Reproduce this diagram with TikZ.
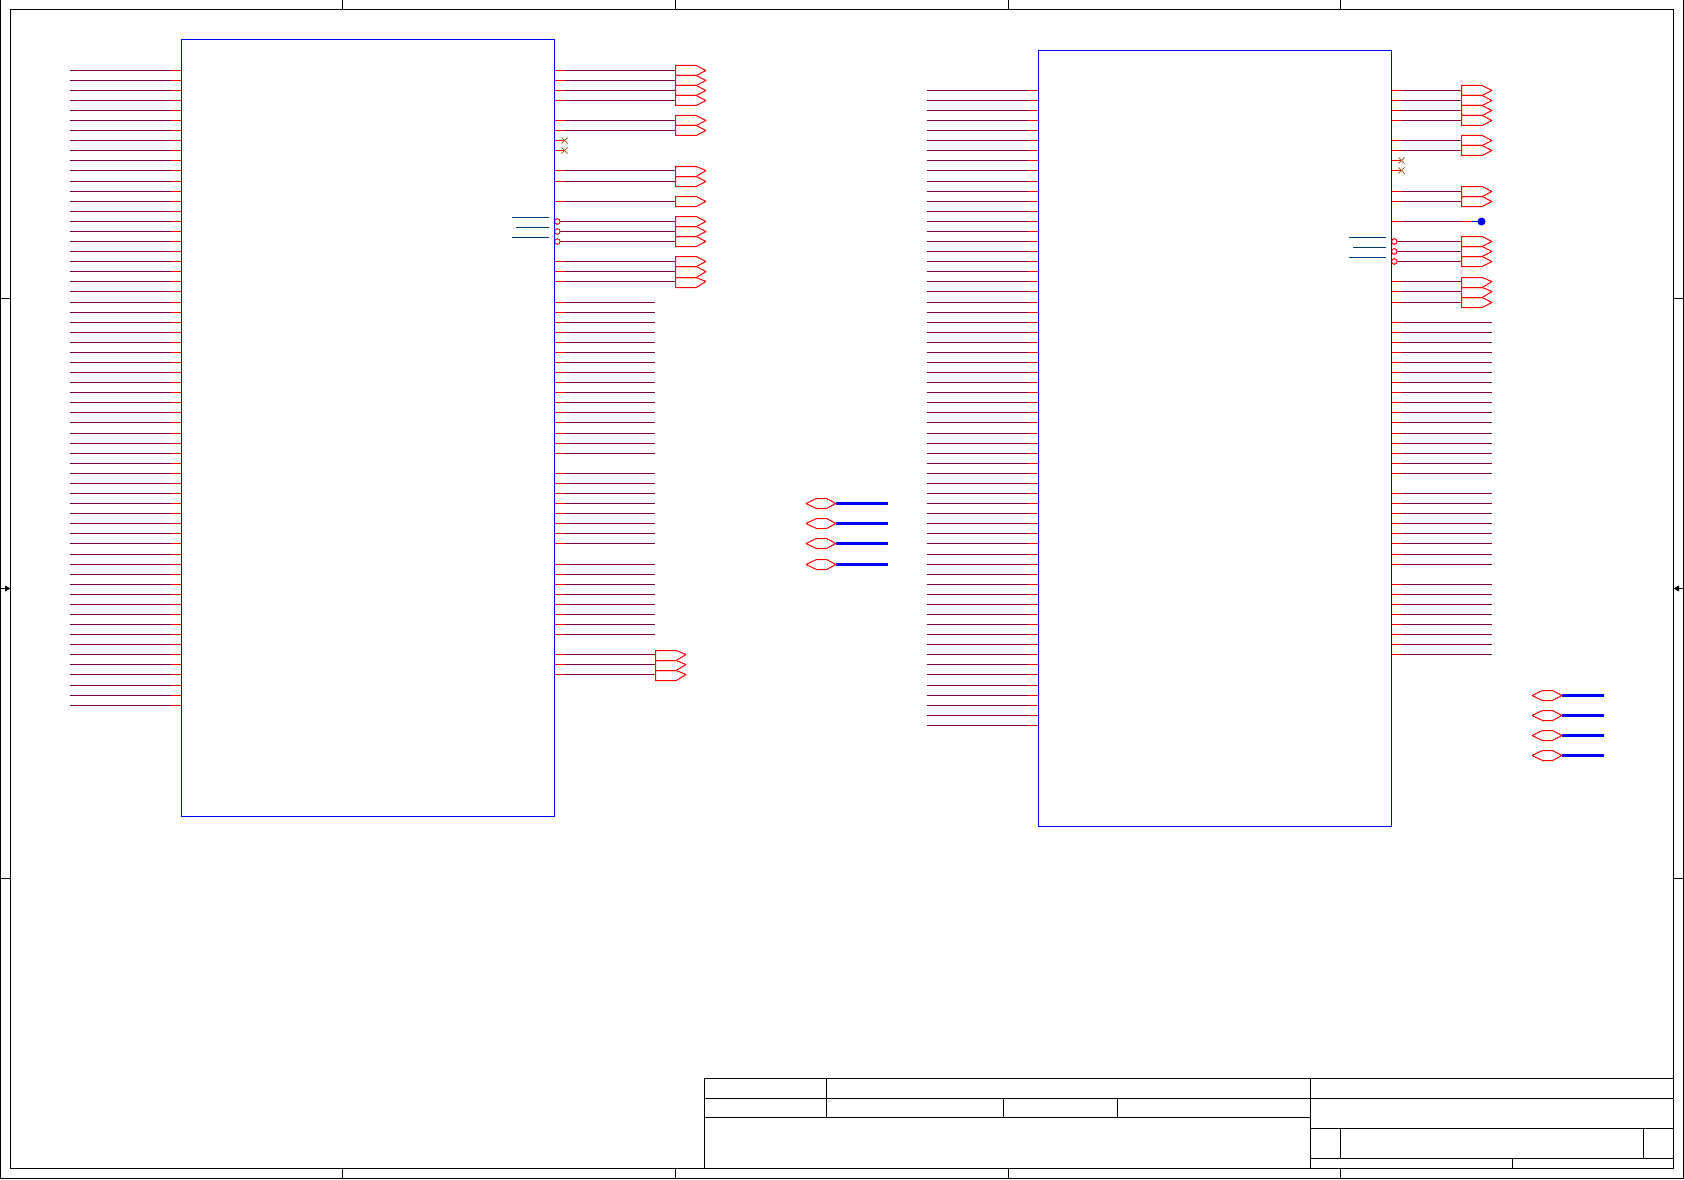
\documentclass[tikz,border=0pt]{standalone}
\usetikzlibrary{calc}
\definecolor{pinred}{HTML}{FF0000}
\definecolor{wirepurple}{HTML}{800040}
\definecolor{chipblue}{HTML}{0000FF}
\definecolor{barblue}{HTML}{003C74}
\definecolor{nocbrown}{HTML}{A0682E}
\tikzset{
  framing/.style={draw=black,line width=1pt},
  chipbox/.style={draw=chipblue,line width=1pt,rectangle,inner sep=0pt,outer sep=0pt},
  pinline/.style={draw=pinred,line width=1pt},
  wireline/.style={draw=wirepurple,line width=1pt},
  portshape/.style={draw=pinred,line width=1pt,line join=miter,miter limit=2},
  busline/.style={draw=chipblue,line width=2.7pt},
  barline/.style={draw=barblue,line width=1pt},
  noconn/.style={draw=nocbrown,line width=0.9pt},
  bubble/.style={draw=pinred,line width=1pt,fill=white}
}
% row position: base + 10 n + drift
\newcommand{\rowpos}[3]{\pgfmathsetmacro{\ypos}{#1+10*#3+floor((#3+#2)/12.5)+0.5}}
% left side pin
\newcommand{\leftpin}[7]{% prefix, n, xstart, xred, xbox, base, a
  \rowpos{#6}{#7}{#2}
  \coordinate (#1-a#2) at (#3,\ypos);
  \coordinate (#1-b#2) at (#4,\ypos);
  \coordinate (#1-c#2) at (#5,\ypos);
  \draw[wireline] (#1-a#2) -- (#1-b#2);
  \draw[pinline] (#1-b#2) -- (#1-c#2);
}
% right side pin
\newcommand{\rightpin}[6]{% prefix, n, xbox, xend, base, a
  \rowpos{#5}{#6}{#2}
  \coordinate (#1-r#2) at (#3,\ypos);
  \coordinate (#1-s#2) at (#3+10,\ypos);
  \coordinate (#1-t#2) at (#4,\ypos);
  \draw[wireline] (#1-s#2) -- (#1-t#2);
  \draw[pinline] (#1-r#2) -- (#1-s#2);
}
% inverted pin
\newcommand{\invpin}[6]{%
  \rowpos{#5}{#6}{#2}
  \coordinate (#1-r#2) at (#3+5.4,\ypos);
  \coordinate (#1-t#2) at (#4,\ypos);
  \draw[wireline] (#1-r#2) -- (#1-t#2);
  \draw[bubble] (#3+2.8,\ypos) circle (2.8);
}
% no-connect pin
\newcommand{\ncpin}[5]{%
  \rowpos{#4}{#5}{#2}
  \coordinate (#1-r#2) at (#3,\ypos);
  \coordinate (#1-s#2) at (#3+10,\ypos);
  \draw[pinline] (#1-r#2) -- (#1-s#2);
  \draw[noconn] ($(#1-s#2)+(-3,-3)$) -- ($(#1-s#2)+(3,3)$);
  \draw[noconn] ($(#1-s#2)+(-3,3)$) -- ($(#1-s#2)+(3,-3)$);
}
% off-page output port: coordinate, height above, height below
\newcommand{\outport}[3]{%
  \draw[portshape] ($(#1)+(0,-#2)$) -- ($(#1)+(20.7,-#2)$) -- ($(#1)+(30.5,0)$)
    -- ($(#1)+(20.7,#3)$) -- ($(#1)+(0,#3)$) -- cycle;
}
% bidirectional port with bus stub: name, x, y, x of stub end
\newcommand{\bidir}[4]{%
  \coordinate (#1-l) at (#2,#3);
  \coordinate (#1-m) at (#2+30,#3);
  \coordinate (#1-e) at (#4,#3);
  \draw[busline] (#1-m) -- (#1-e);
  \draw[portshape] (#1-l) -- ++(10.5,-5) -- ++(10,0) -- (#1-m) -- ++(-9.5,5) -- ++(-10,0) -- cycle;
}
\begin{document}
\begin{tikzpicture}[x=1pt,y=-1pt]
\useasboundingbox (0,0) rectangle (1684,1180);
\fill[white] (0,0) rectangle (1684,1180);

% sheet frame
\draw[framing] (0.5,-2) rectangle (1683.5,1178.5);
\draw[framing] (10.5,9.5) rectangle (1673.5,1168.5);
\foreach \tx in {342.5,675.5,1008.5,1340.5}{
  \draw[framing] (\tx,0) -- (\tx,9.5);
  \draw[framing] (\tx,1168.5) -- (\tx,1178.5);
}
\foreach \ty in {298.5,588.5,878.5}{
  \draw[framing] (0.5,\ty) -- (10.5,\ty);
  \draw[framing] (1673.5,\ty) -- (1683.5,\ty);
}
\fill[black] (5,585.5) -- (10.5,588.5) -- (5,591.5) -- cycle;
\fill[black] (1679,585.5) -- (1673.5,588.5) -- (1679,591.5) -- cycle;

% title block
\draw[framing] (704.5,1078.5) rectangle (1673.5,1168.5);
\draw[framing] (704.5,1098.5) -- (1673.5,1098.5);
\draw[framing] (704.5,1117.5) -- (1310.5,1117.5);
\draw[framing] (826.5,1078.5) -- (826.5,1117.5);
\draw[framing] (1003.5,1098.5) -- (1003.5,1117.5);
\draw[framing] (1117.5,1098.5) -- (1117.5,1117.5);
\draw[framing] (1310.5,1078.5) -- (1310.5,1168.5);
\draw[framing] (1310.5,1128.5) -- (1673.5,1128.5);
\draw[framing] (1310.5,1158.5) -- (1673.5,1158.5);
\draw[framing] (1340.5,1128.5) -- (1340.5,1158.5);
\draw[framing] (1643.5,1128.5) -- (1643.5,1158.5);
\draw[framing] (1512.5,1158.5) -- (1512.5,1168.5);

% ---------- chip A ----------
\foreach \n in {0,...,63}{ \leftpin{A}{\n}{70}{171}{181.5}{70}{2} }
\foreach \n in {0,1,2,3,5,6,10,11,13,19,20,21}{ \rightpin{A}{\n}{554.5}{675.5}{70}{2} }
\foreach \n in {58,59,60}{ \rightpin{A}{\n}{554.5}{655.5}{70}{2} }
\foreach \n in {23,...,38,40,41,...,47,49,50,...,56}{ \rightpin{A}{\n}{554.5}{655}{70}{2} }
\foreach \n in {7,8}{ \ncpin{A}{\n}{554.5}{70}{2} }
\foreach \n in {15,16,17}{ \invpin{A}{\n}{554.5}{675.5}{70}{2} }
\foreach \n/\u/\d in {0/5/5,1/5/5,2/5/5,3/5/5,5/5/5,6/5/5,10/4/6,11/5/5,13/5/5,15/5/5,16/5/5,17/5/5,19/5/5,20/5/6,21/4/6,58/4/6,59/4/6,60/4/6}{ \outport{A-t\n}{\u}{\d} }
\node[chipbox,minimum width=373pt,minimum height=777pt,anchor=north west] (chipA) at (181.5,39.5) {};
\coordinate (A-bar1s) at (512,217.5); \coordinate (A-bar1e) at (549,217.5);
\coordinate (A-bar2s) at (516,227.5); \coordinate (A-bar2e) at (549,227.5);
\coordinate (A-bar3s) at (512,237.5); \coordinate (A-bar3e) at (549,237.5);
\foreach \b in {1,2,3}{ \draw[barline] (A-bar\b s) -- (A-bar\b e); }
\bidir{Ah1}{806}{503.5}{888}
\bidir{Ah2}{806}{523.5}{888}
\bidir{Ah3}{806}{543.5}{888}
\bidir{Ah4}{806}{564.5}{888}

% ---------- chip B ----------
\foreach \n in {0,...,63}{ \leftpin{B}{\n}{926.5}{1028}{1038.5}{90}{4} }
\foreach \n in {0,1,2,3,5,6,10,11,13,19,20,21}{ \rightpin{B}{\n}{1391.5}{1461.5}{90}{4} }
\foreach \n in {23,...,38,40,41,...,47,49,50,...,56}{ \rightpin{B}{\n}{1391.5}{1492}{90}{4} }
\foreach \n in {7,8}{ \ncpin{B}{\n}{1391.5}{90}{4} }
\foreach \n in {15,16,17}{ \invpin{B}{\n}{1391.5}{1461.5}{90}{4} }
\foreach \n/\u/\d in {0/5/5,1/5/5,2/5/5,3/5/5,5/5/5,6/5/5,10/5/5,11/5/5,15/5/5,16/5/5,17/5/5,19/4/6,20/4/6,21/5/5}{ \outport{B-t\n}{\u}{\d} }
\node[chipbox,minimum width=353pt,minimum height=776pt,anchor=north west] (chipB) at (1038.5,50.5) {};
\coordinate (B-bar1s) at (1349,237.5); \coordinate (B-bar1e) at (1386,237.5);
\coordinate (B-bar2s) at (1353,247.5); \coordinate (B-bar2e) at (1386,247.5);
\coordinate (B-bar3s) at (1349,257.5); \coordinate (B-bar3e) at (1386,257.5);
\foreach \b in {1,2,3}{ \draw[barline] (B-bar\b s) -- (B-bar\b e); }
% power dot on row 13
\coordinate (B-dot) at (1481.5,221.5);
\coordinate (B-dotr) at (1472,221.5);
\draw[pinline] (B-t13) -- (B-dotr);
\draw[draw=chipblue,line width=1pt] (B-dotr) -- (B-dot);
\fill[chipblue] (B-dot) circle (4);
\bidir{Bh1}{1532}{695.5}{1603.5}
\bidir{Bh2}{1532}{715.5}{1603.5}
\bidir{Bh3}{1532}{735.5}{1603.5}
\bidir{Bh4}{1532}{755.5}{1603.5}
\end{tikzpicture}
\end{document}
